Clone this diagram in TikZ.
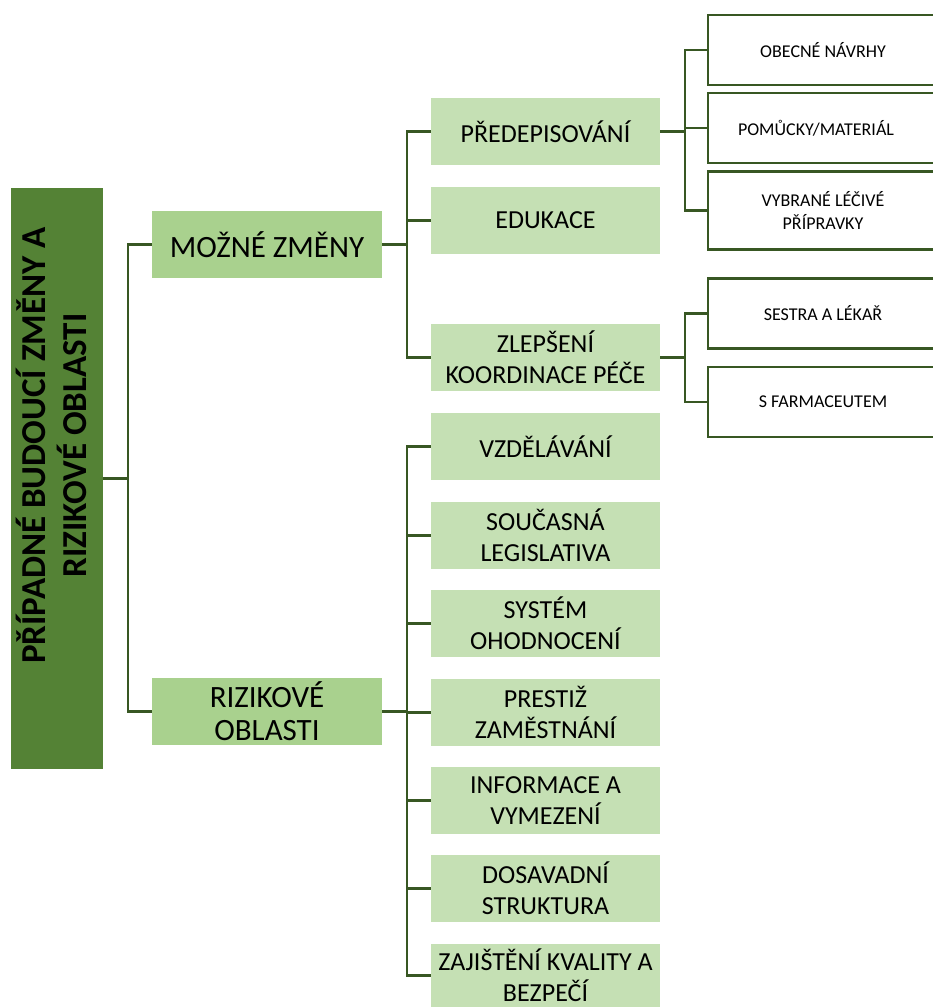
\documentclass[tikz,border=0pt]{standalone}
\usepackage{fontspec}
\setmainfont{Carlito}
\definecolor{rootgreen}{HTML}{548235}
\definecolor{midgreen}{HTML}{A9D18E}
\definecolor{lightgreen}{HTML}{C5E0B4}
\definecolor{linegreen}{HTML}{385723}
\begin{document}
\begin{tikzpicture}[x=1pt,y=-1pt,
  conn/.style={draw=linegreen, line width=2.5pt},
  rootbox/.style={fill=rootgreen, minimum width=92pt, minimum height=581pt, inner sep=0pt},
  lvlone/.style={fill=midgreen, minimum width=230pt, minimum height=67pt, inner sep=0pt,
    align=center, font=\fontsize{31}{33}\selectfont},
  lvltwo/.style={fill=lightgreen, minimum width=229pt, minimum height=67pt, inner sep=0pt,
    align=center, font=\fontsize{26}{31}\selectfont},
  lvlthree/.style={draw=linegreen, line width=2.4pt, fill=white, minimum width=230pt,
    minimum height=70pt, inner sep=0pt, align=center, font=\fontsize{18}{23}\selectfont},
]
\useasboundingbox (0,0) rectangle (933,1007);

% root
\node[rootbox] (root) at (57,478.5) {\rotatebox{90}{\hspace*{66pt}\fontsize{35}{37}\selectfont\bfseries
  \begin{tabular}{@{}c@{}}PŘÍPADNÉ BUDOUCÍ ZMĚNY A\\RIZIKOVÉ OBLASTI\end{tabular}}};

% first level
\node[lvlone] (mozne) at (267,244.5) {MOŽNÉ ZMĚNY};
\node[lvlone] (rizik) at (267,711.5) {RIZIKOVÉ\\OBLASTI};

% second level
\node[lvltwo] (pred) at (545.5,131.5) {PŘEDEPISOVÁNÍ};
\node[lvltwo] (edu)  at (545.5,220.5) {EDUKACE};
\node[lvltwo] (zlep) at (545.5,357.5) {ZLEPŠENÍ\\KOORDINACE PÉČE};
\node[lvltwo] (vzd)  at (545.5,446.5) {VZDĚLÁVÁNÍ};
\node[lvltwo] (leg)  at (545.5,535.5) {SOUČASNÁ\\LEGISLATIVA};
\node[lvltwo] (sys)  at (545.5,623.5) {SYSTÉM\\OHODNOCENÍ};
\node[lvltwo] (pres) at (545.5,712.5) {PRESTIŽ\\ZAMĚSTNÁNÍ};
\node[lvltwo] (info) at (545.5,800.5) {INFORMACE A\\VYMEZENÍ};
\node[lvltwo] (dos)  at (545.5,888.5) {DOSAVADNÍ\\STRUKTURA};
\node[lvltwo, minimum height=63pt] (zaj) at (545.5,975.5) {ZAJIŠTĚNÍ KVALITY A\\BEZPEČÍ};

% third level
\node[lvlthree] (obec) at (823,50) {OBECNÉ NÁVRHY};
\node[lvlthree] (pom)  at (823,128) {\hspace*{-14pt}POMŮCKY/MATERIÁL};
\node[lvlthree, minimum height=78pt] (vybr) at (823,210.5) {VYBRANÉ LÉČIVÉ\\PŘÍPRAVKY};
\node[lvlthree] (sest) at (823,313.5) {SESTRA A LÉKAŘ};
\node[lvlthree] (farm) at (823,402) {S FARMACEUTEM};

% connectors
\foreach \c in {mozne,rizik}
  \draw[conn] (root.east) -- ++(25,0) |- (\c.west);
\foreach \c in {pred,edu,zlep}
  \draw[conn] (mozne.east) -- ++(25,0) |- (\c.west);
\foreach \c in {vzd,leg,sys,pres,info,dos,zaj}
  \draw[conn] (rizik.east) -- ++(25,0) |- (\c.west);
\foreach \c in {obec,pom,vybr}
  \draw[conn] (pred.east) -- ++(25,0) |- (\c.west);
\foreach \c in {sest,farm}
  \draw[conn] (zlep.east) -- ++(25,0) |- (\c.west);
\end{tikzpicture}
\end{document}
